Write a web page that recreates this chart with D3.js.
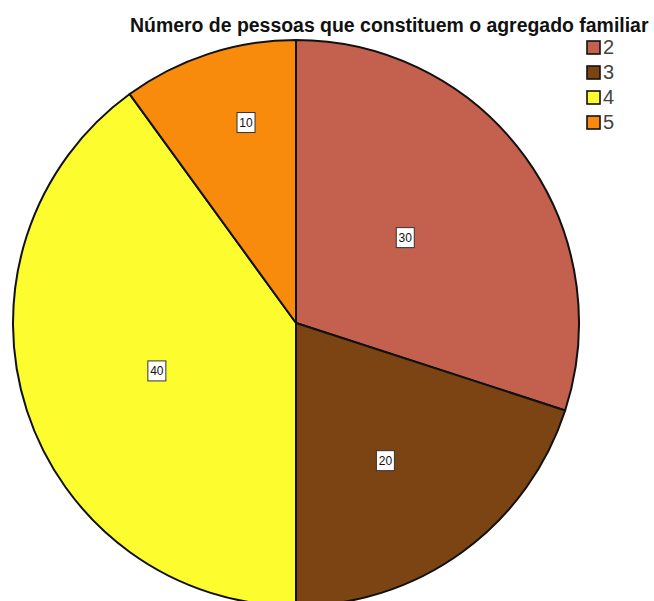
<!DOCTYPE html>
<html>
<head>
<meta charset="utf-8">
<script src="https://cdn.jsdelivr.net/npm/d3@7"></script>
<style>
  body { margin: 0; background: #fff; }
  svg { display: block; }
</style>
</head>
<body>
<svg id="chart" width="654" height="601"></svg>
<script>
// Household size distribution
const titleText = "Número de pessoas que constituem o agregado familiar";
const categories = ["2", "3", "4", "5"];
const counts = [30, 20, 40, 10];
const sliceColors = ["#C3604E", "#7C4413", "#FCFC2E", "#F98B0C"];

const width = 654, height = 601;
const cx = 296, cy = 323, radius = 283;
// value label placement: distance as a share of the radius, and a small turn (degrees) off the slice's mid-angle
const labelRadiusShare = [0.49, 0.58, 0.52, 0.73];
const labelTurnDeg = [-2, 3, -1, 4];

const svg = d3.select("#chart");

const data = categories.map((c, i) => ({ cat: c, count: counts[i], idx: i }));

const color = d3.scaleOrdinal().domain(categories).range(sliceColors);

const pie = d3.pie().sort(null).value(d => d.count);
const arcs = pie(data);
const arc = d3.arc().innerRadius(0).outerRadius(radius);

const g = svg.append("g").attr("transform", `translate(${cx},${cy})`);

g.selectAll("path.slice")
  .data(arcs)
  .join("path")
  .attr("class", "slice")
  .attr("d", arc)
  .attr("fill", d => color(d.data.cat))
  .attr("stroke", "#111")
  .attr("stroke-width", 2)
  .attr("stroke-linejoin", "round");

function labelPos(d) {
  const i = d.data.idx;
  const r = labelRadiusShare[i] * radius;
  const turn = labelTurnDeg[i] * Math.PI / 180;
  const shifted = { startAngle: d.startAngle + turn, endAngle: d.endAngle + turn };
  return d3.arc().innerRadius(r).outerRadius(r).centroid(shifted);
}

const labels = g.selectAll("g.vlabel")
  .data(arcs)
  .join("g")
  .attr("class", "vlabel")
  .attr("transform", d => `translate(${labelPos(d)})`);

labels.append("rect")
  .attr("x", -9).attr("y", -10)
  .attr("width", 18).attr("height", 20)
  .attr("fill", "#fff")
  .attr("stroke", "#333")
  .attr("stroke-width", 1);

labels.append("text")
  .attr("text-anchor", "middle")
  .attr("dy", "0.36em")
  .attr("font-family", "Liberation Sans, Arial, sans-serif")
  .attr("font-size", 12)
  .attr("fill", "#111")
  .text(d => d.data.count);

// title
const title = svg.append("text")
  .attr("x", 130)
  .attr("y", 32)
  .attr("font-family", "Liberation Sans, Arial, sans-serif")
  .attr("font-weight", "bold")
  .attr("font-size", 16)
  .attr("fill", "#111")
  .text(titleText);
const tw = title.node().getComputedTextLength();
title.attr("font-size", 16 * 519 / tw);

// legend
const legend = svg.append("g").attr("transform", "translate(587,41)");
const rowH = 25;
const rows = legend.selectAll("g.row")
  .data(categories)
  .join("g")
  .attr("class", "row")
  .attr("transform", (d, i) => `translate(0,${i * rowH})`);

rows.append("rect")
  .attr("width", 13).attr("height", 13)
  .attr("fill", d => color(d))
  .attr("stroke", "#111")
  .attr("stroke-width", 1.6);

rows.append("text")
  .attr("x", 16)
  .attr("y", 13)
  .attr("font-family", "Liberation Sans, Arial, sans-serif")
  .attr("font-size", 20)
  .attr("fill", "#444")
  .text(d => d);
</script>
</body>
</html>
